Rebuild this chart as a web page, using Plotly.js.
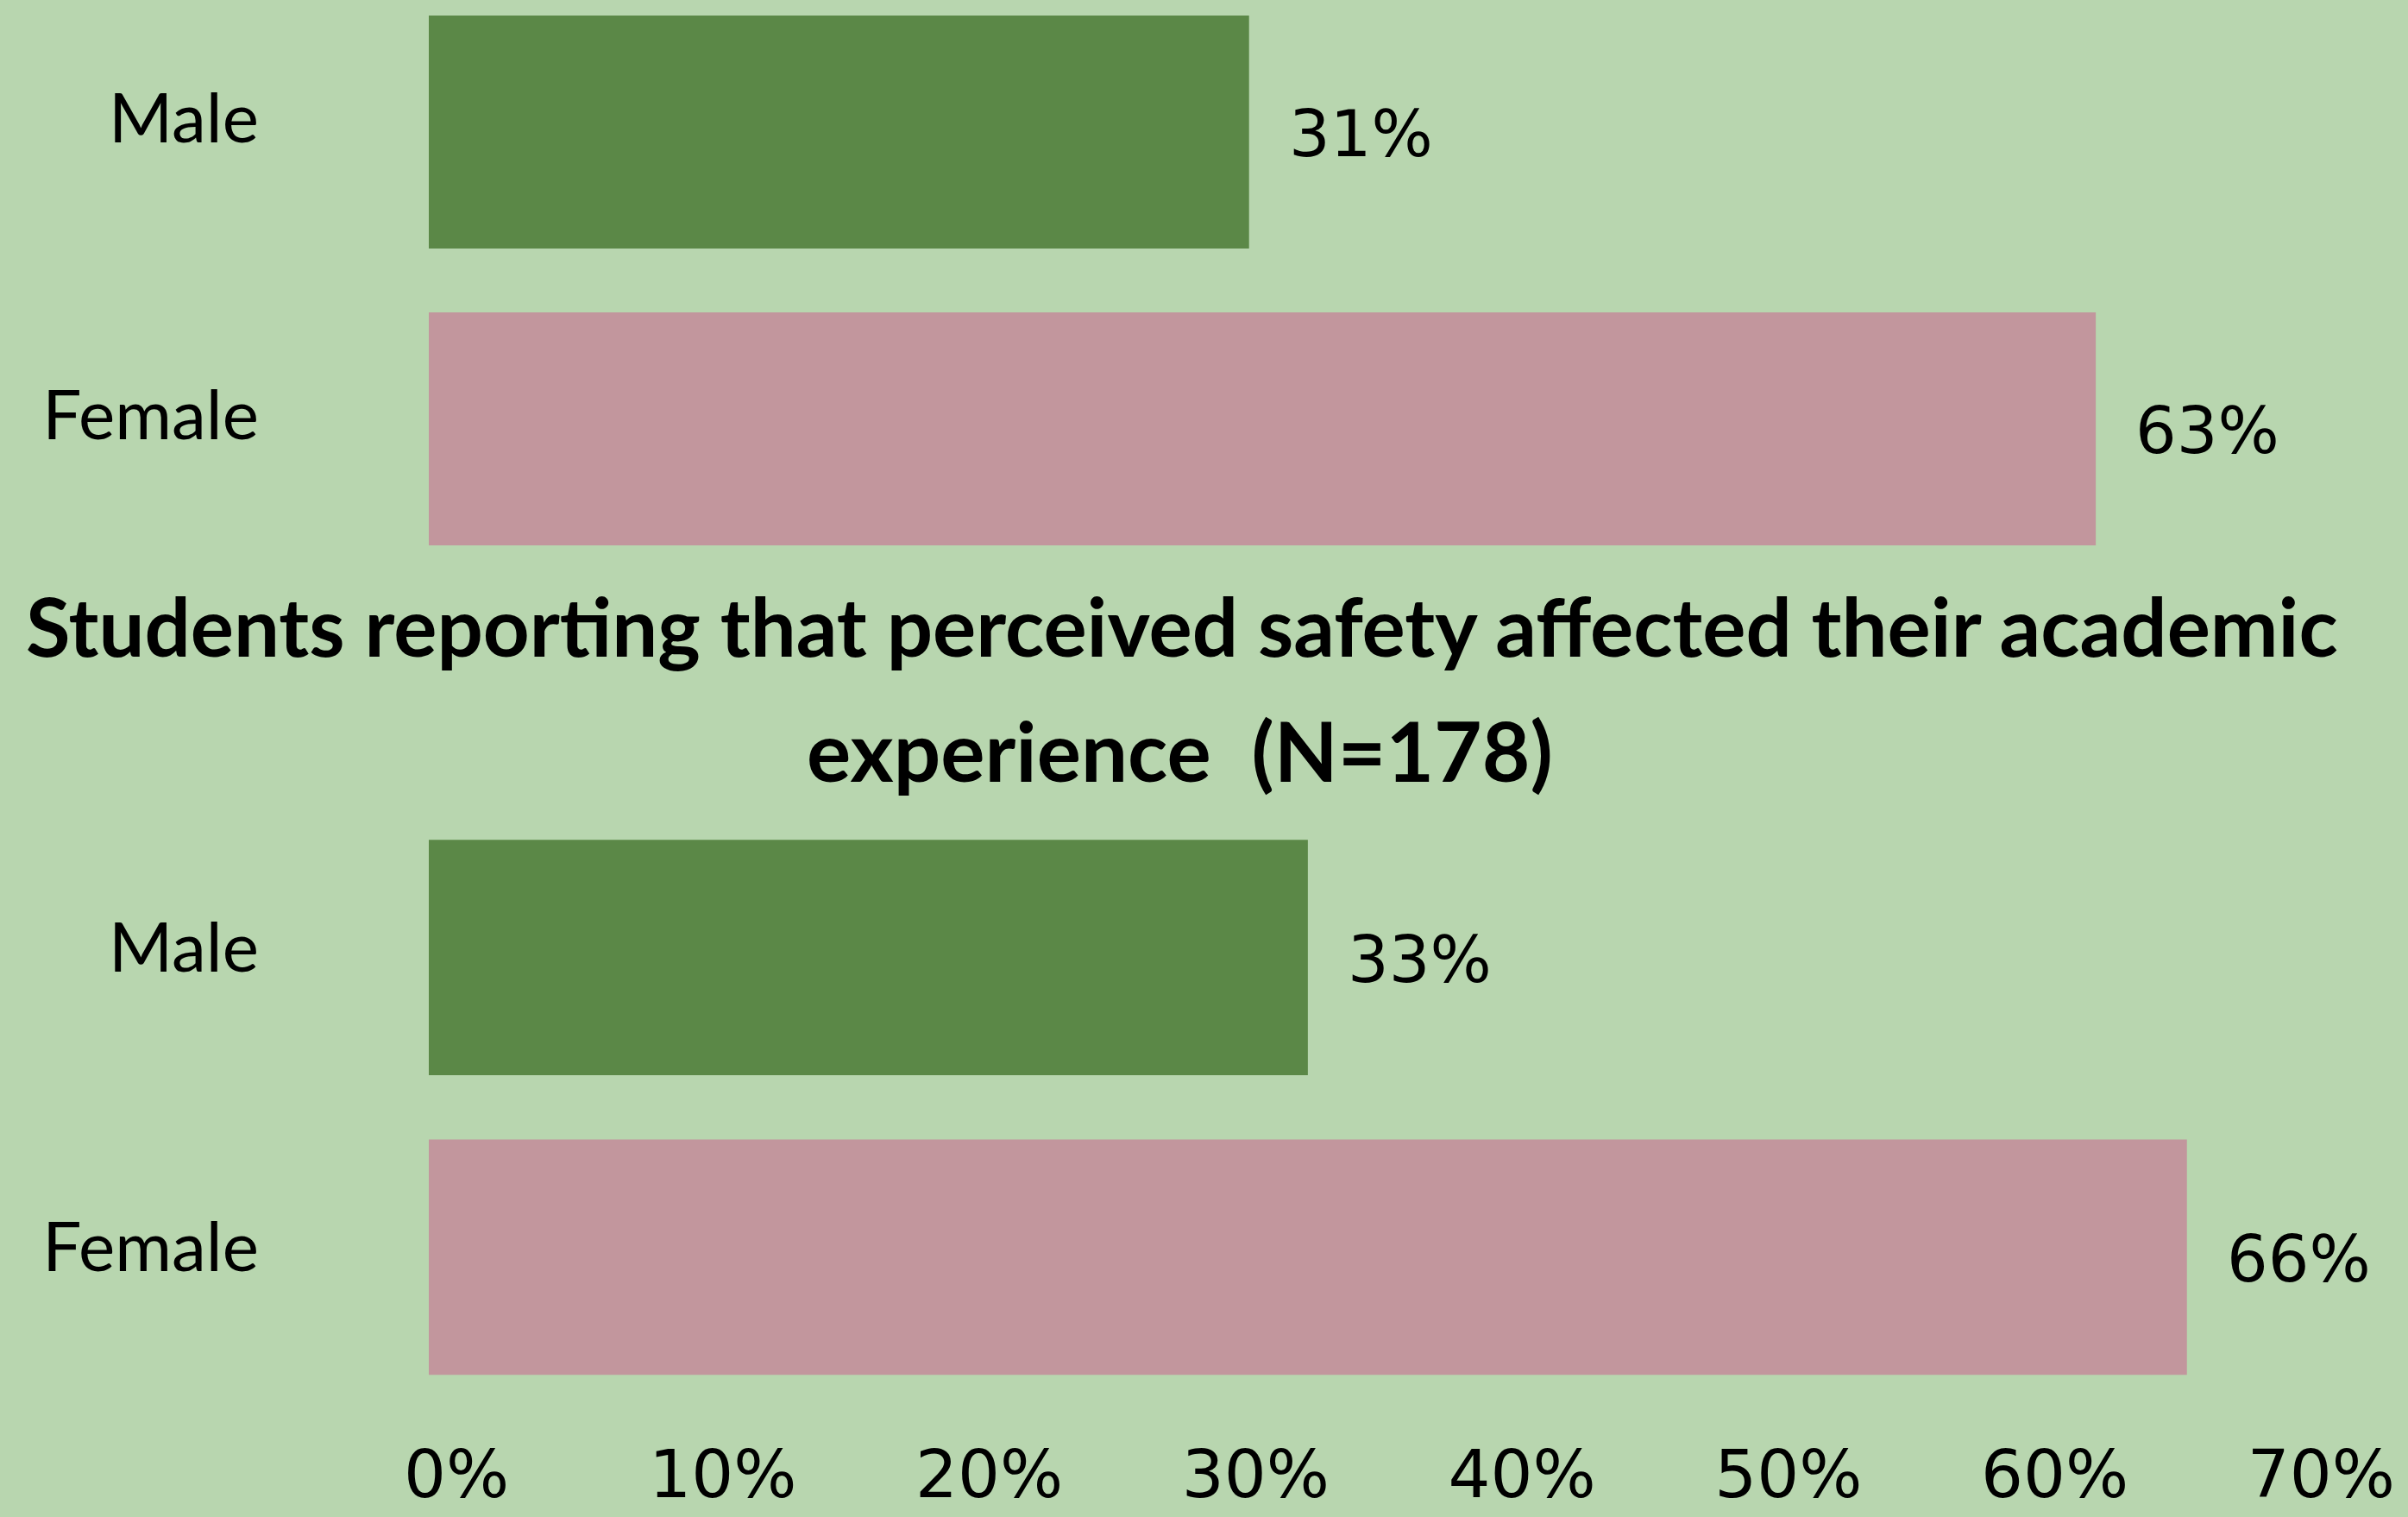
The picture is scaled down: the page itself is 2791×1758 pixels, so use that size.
<!DOCTYPE html>
<html>
<head>
<meta charset="utf-8">
<script src="https://cdn.plot.ly/plotly-3.0.1.min.js"></script>
<style>
  html, body { margin: 0; padding: 0; background: #B8D6AF; }
  #chart { width: 2791px; height: 1758px; }
</style>
</head>
<body>
<div id="chart"></div>
<script>
// ---- data ----
var categories = ["Male", "Female"];
var topValues = [31, 63];          // upper panel (% of students)
var bottomValues = [33, 66];       // "perceived safety affected academic experience"
var barColors = ["#5B8847", "#C2969D"];
var titleLine1 = "Students reporting that perceived safety affected their academic";
var titleLine2 = "experience  (N=178)";
var tickValues = [0, 10, 20, 30, 40, 50, 60, 70];
var tickLabels = ["0%", "10%", "20%", "30%", "40%", "50%", "60%", "70%"];

var BG = "#B8D6AF";
var numFont = "DejaVu Sans, sans-serif";
var catFont = "Lato, Open Sans, sans-serif";

var traces = [
  {
    type: "bar", orientation: "h",
    x: topValues, y: categories,
    xaxis: "x2", yaxis: "y2",
    marker: { color: barColors, line: { width: 0 } },
    hoverinfo: "skip", showlegend: false
  },
  {
    type: "bar", orientation: "h",
    x: bottomValues, y: categories,
    xaxis: "x", yaxis: "y",
    marker: { color: barColors, line: { width: 0 } },
    hoverinfo: "skip", showlegend: false
  }
];

var annotations = [];
function addLabels(vals, xref, yref) {
  for (var i = 0; i < vals.length; i++) {
    annotations.push({
      x: vals[i], y: categories[i], xref: xref, yref: yref,
      text: vals[i] + "%", showarrow: false,
      xanchor: "left", yanchor: "middle", xshift: 44, yshift: -2,
      font: { family: numFont, size: 75, color: "#000000" }
    });
  }
}
addLabels(topValues, "x2", "y2");
addLabels(bottomValues, "x", "y");

annotations.push({
  x: 0.3805, y: 0.5880, xref: "paper", yref: "paper",
  text: "<b>" + titleLine1 + "</b>", showarrow: false,
  xanchor: "center", yanchor: "middle",
  font: { family: catFont, size: 94, color: "#000000" }
});
annotations.push({
  x: 0.3795, y: 0.5060, xref: "paper", yref: "paper",
  text: "<b>" + titleLine2 + "</b>", showarrow: false,
  xanchor: "center", yanchor: "middle",
  font: { family: catFont, size: 96, color: "#000000" }
});

var layout = {
  width: 2791, height: 1758,
  paper_bgcolor: BG, plot_bgcolor: BG,
  margin: { l: 497, r: 0, t: 0, b: 0, pad: 0 },
  bargap: 0.215,
  showlegend: false,
  xaxis: {
    domain: [0, 1], range: [0, 74.3], anchor: "y",
    tickvals: tickValues, ticktext: tickLabels,
    showgrid: false, zeroline: false, showline: false, ticks: "",
    ticklabelstandoff: 26, ticklabelshift: 32,
    tickfont: { family: numFont, size: 77, color: "#000000" },
    automargin: false, fixedrange: true
  },
  xaxis2: {
    domain: [0, 1], range: [0, 74.8], anchor: "y2",
    showticklabels: false, showgrid: false, zeroline: false, showline: false, ticks: "",
    automargin: false, fixedrange: true
  },
  yaxis: {
    domain: [0.0724, 0.4677], range: [1.5, -0.5], anchor: "x",
    type: "category",
    showgrid: false, zeroline: false, showline: false, ticks: "",
    ticklabelstandoff: 196, ticklabelshift: 12,
    tickfont: { family: catFont, size: 80, color: "#000000" },
    automargin: false, fixedrange: true
  },
  yaxis2: {
    domain: [0.6195, 1], range: [1.5, -0.445], anchor: "x2",
    type: "category",
    showgrid: false, zeroline: false, showline: false, ticks: "",
    ticklabelstandoff: 196, ticklabelshift: 16,
    tickfont: { family: catFont, size: 80, color: "#000000" },
    automargin: false, fixedrange: true
  },
  annotations: annotations
};

Plotly.newPlot("chart", traces, layout, { displayModeBar: false, staticPlot: true });
</script>
</body>
</html>
